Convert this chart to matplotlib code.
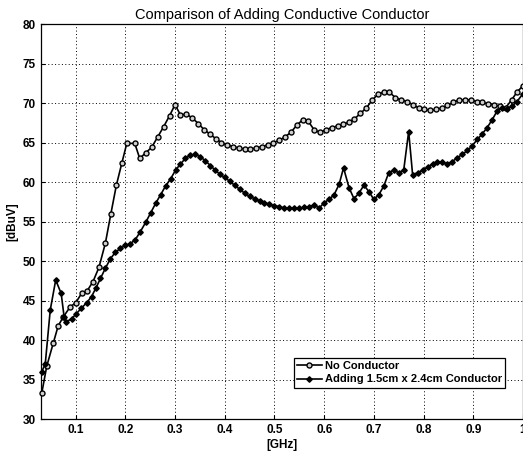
import matplotlib
matplotlib.use("Agg")
import matplotlib.pyplot as plt

plt.rcParams['font.family'] = ['Liberation Sans', 'DejaVu Sans']

title = "Comparison of Adding Conductive Conductor"
xlabel = "[GHz]"
ylabel = "[dBuV]"
label_no = "No Conductor"
label_add = "Adding 1.5cm x 2.4cm Conductor"

x_no = [0.032, 0.042, 0.055, 0.065, 0.075, 0.089, 0.100, 0.112, 0.123, 0.135,
        0.147, 0.160, 0.171, 0.182, 0.193, 0.203, 0.219, 0.229, 0.241, 0.253,
        0.265, 0.277, 0.289, 0.300, 0.311, 0.323, 0.335, 0.347, 0.359, 0.370,
        0.382, 0.393, 0.405, 0.417, 0.428, 0.440, 0.451, 0.463, 0.475, 0.487,
        0.498, 0.510, 0.521, 0.533, 0.545, 0.557, 0.568, 0.580, 0.591, 0.603,
        0.615, 0.627, 0.638, 0.650, 0.661, 0.673, 0.685, 0.697, 0.708, 0.720,
        0.731, 0.743, 0.755, 0.767, 0.778, 0.790, 0.801, 0.813, 0.825, 0.837,
        0.848, 0.860, 0.871, 0.883, 0.895, 0.907, 0.918, 0.930, 0.941, 0.953,
        0.965, 0.977, 0.988, 1.000]
y_no = [33.3, 36.7, 39.6, 41.8, 42.9, 44.2, 44.7, 45.9, 46.2, 47.4,
        49.2, 52.3, 56.0, 59.6, 62.4, 64.9, 64.9, 63.0, 63.7, 64.4,
        65.7, 67.0, 68.4, 69.8, 68.5, 68.6, 68.1, 67.4, 66.6, 66.1,
        65.5, 65.0, 64.7, 64.5, 64.3, 64.2, 64.2, 64.3, 64.5, 64.7,
        65.0, 65.3, 65.7, 66.3, 67.2, 67.9, 67.7, 66.6, 66.3, 66.6,
        66.9, 67.1, 67.3, 67.6, 68.0, 68.7, 69.4, 70.4, 71.1, 71.4,
        71.4, 70.7, 70.4, 70.2, 69.8, 69.4, 69.2, 69.1, 69.2, 69.4,
        69.7, 70.1, 70.4, 70.4, 70.4, 70.2, 70.1, 69.9, 69.8, 69.6,
        69.4, 70.4, 71.4, 72.2]

x_add = [0.032, 0.039, 0.049, 0.060, 0.071, 0.077, 0.081, 0.092, 0.101, 0.111,
         0.122, 0.132, 0.141, 0.150, 0.160, 0.170, 0.180, 0.190, 0.200, 0.210,
         0.220, 0.230, 0.241, 0.251, 0.261, 0.271, 0.281, 0.291, 0.301, 0.311,
         0.321, 0.331, 0.341, 0.351, 0.361, 0.371, 0.381, 0.390, 0.400, 0.410,
         0.420, 0.430, 0.440, 0.450, 0.460, 0.470, 0.480, 0.490, 0.500, 0.510,
         0.520, 0.530, 0.540, 0.550, 0.560, 0.570, 0.580, 0.590, 0.600, 0.610,
         0.620, 0.630, 0.639, 0.650, 0.660, 0.670, 0.680, 0.690, 0.700, 0.710,
         0.720, 0.730, 0.740, 0.750, 0.760, 0.770, 0.778, 0.788, 0.798, 0.808,
         0.818, 0.828, 0.838, 0.848, 0.858, 0.868, 0.878, 0.888, 0.898, 0.908,
         0.918, 0.928, 0.938, 0.948, 0.958, 0.968, 0.978, 0.988, 1.000]
y_add = [36.0, 37.0, 43.8, 47.6, 45.9, 42.9, 42.3, 42.7, 43.3, 44.0,
         44.7, 45.5, 46.6, 47.8, 49.1, 50.3, 51.1, 51.6, 52.0, 52.2,
         52.7, 53.7, 54.9, 56.1, 57.3, 58.4, 59.5, 60.4, 61.5, 62.3,
         63.0, 63.4, 63.5, 63.2, 62.7, 62.1, 61.5, 61.0, 60.6, 60.1,
         59.6, 59.1, 58.6, 58.2, 57.9, 57.6, 57.4, 57.2, 57.0, 56.9,
         56.7, 56.7, 56.7, 56.7, 56.8, 56.9, 57.1, 56.7, 57.4, 57.8,
         58.4, 59.7, 61.8, 59.3, 57.9, 58.6, 59.6, 58.8, 57.8, 58.4,
         59.5, 61.2, 61.5, 61.2, 61.5, 66.4, 60.9, 61.2, 61.5, 61.9,
         62.3, 62.6, 62.5, 62.3, 62.6, 63.1, 63.5, 64.0, 64.6, 65.4,
         66.1, 66.9, 67.9, 69.0, 69.4, 69.3, 69.6, 70.2, 71.2]

xticks = [0.1, 0.2, 0.3, 0.4, 0.5, 0.6, 0.7, 0.8, 0.9, 1.0]
xticklabels = ["0.1", "0.2", "0.3", "0.4", "0.5", "0.6", "0.7", "0.8", "0.9", "1"]
yticks = [30, 35, 40, 45, 50, 55, 60, 65, 70, 75, 80]

fig = plt.figure(figsize=(5.23, 4.55), dpi=100)
ax = fig.add_axes([0.078, 0.079, 0.922, 0.868])

ax.plot(x_no, y_no, color='black', lw=1.2, marker='o', ms=3.6,
        mfc='#d0d0d0', mec='black', mew=1.0, label=label_no, clip_on=False, zorder=3)
ax.plot(x_add, y_add, color='black', lw=1.2, marker='D', ms=2.8,
        mfc='black', mec='black', label=label_add, clip_on=False, zorder=3)

ax.set_xlim(0.03, 1.0)
ax.set_ylim(30, 80)
ax.set_xticks(xticks)
ax.set_xticklabels(xticklabels)
ax.set_yticks(yticks)
ax.tick_params(direction='in', length=3, labelsize=8.5, width=0.8)
for lbl in ax.get_xticklabels() + ax.get_yticklabels():
    lbl.set_fontweight('bold')
ax.grid(True, linestyle=(0, (1, 2.5)), color='black', linewidth=0.7)
for s in ax.spines.values():
    s.set_linewidth(0.9)

ax.set_title(title, fontsize=10.5, pad=4)
ax.set_xlabel(xlabel, fontsize=8.5, fontweight='bold', labelpad=2)
ax.set_ylabel(ylabel, fontsize=8.5, fontweight='bold', labelpad=3)

leg = ax.legend(loc='lower right', bbox_to_anchor=(0.975, 0.065),
                frameon=True, fancybox=False, edgecolor='black', framealpha=1,
                markerscale=1.0, handlelength=2.2, handletextpad=0.3,
                borderpad=0.3, labelspacing=0.3,
                prop={'weight': 'bold', 'size': 8})
leg.get_frame().set_linewidth(0.9)

fig.savefig("out.png", dpi=100)
